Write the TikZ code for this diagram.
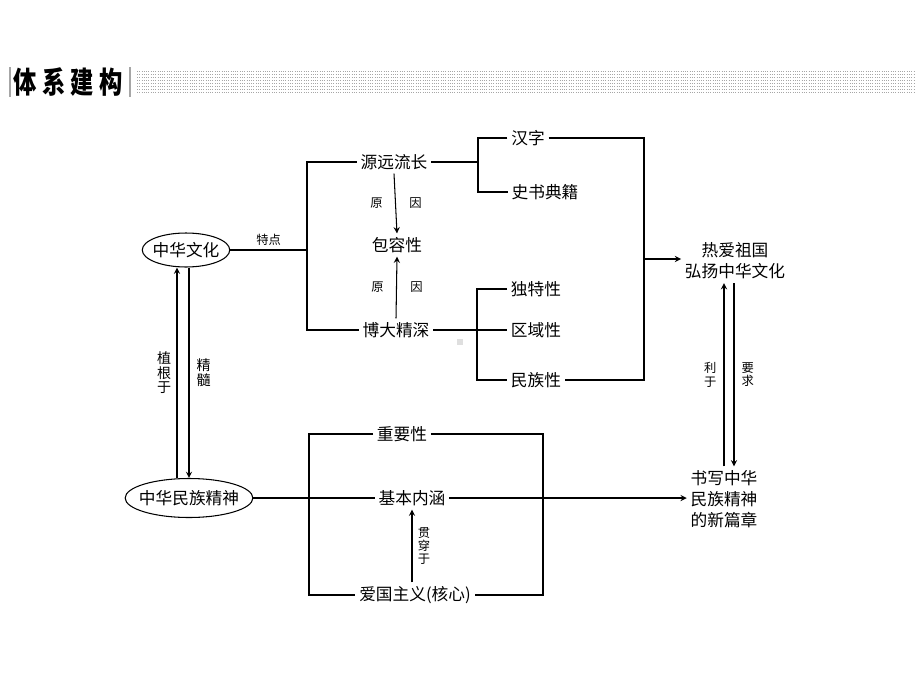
\documentclass[tikz,border=0pt]{standalone}
\usepackage{graphicx}
\usepackage{fontspec}
\newfontfamily\cjk{Noto Sans CJK SC}
\usepackage{tikz}
\usetikzlibrary{positioning, arrows, shapes}
\tikzstyle{term} = [inner sep=2pt, align=center, font=\cjk\fontsize{9.5}{12}\selectfont]
\tikzstyle{oval} = [ellipse, draw=black, line width=0.6pt, inner ysep=0pt, font=\cjk\fontsize{9.5}{12}\selectfont]
\tikzstyle{tag} = [inner sep=1pt, align=center, font=\cjk\fontsize{7}{7.6}\selectfont]
\tikzstyle{bigtag} = [inner sep=1pt, align=center, font=\cjk\fontsize{8}{8.2}\selectfont]
\tikzstyle{head} = [inner sep=0pt, font=\cjk\bfseries\fontsize{17}{17}\selectfont]
\tikzstyle{arrow} = [line width=0.6pt,->,>=stealth]
\tikzstyle{link} = [line width=0.6pt]

\begin{document}
\begin{tikzpicture}[x=0.02cm, y=-0.02cm]
        \useasboundingbox (0,0) rectangle (920,690);

        % title bar
        \draw [gray!70, line width=0.8pt] (10,67) -- (10,97);
        \draw [gray!70, line width=0.8pt] (130,67) -- (130,97);
        \foreach \ch [count=\i] in {体,系,建,构}
            \node (head\i) [head] at (-3+28.5*\i, 82) {\scalebox{0.78}[1]{\ch}};
        \foreach \y in {71,74,...,92}
            \draw [gray!70, line width=0.4pt, dash pattern=on 0.4pt off 0.9pt] (137,\y) -- (915,\y);

        % nodes
        \node (culture) [oval, inner xsep=-1.4pt, minimum height=0.68cm] at (186,250) {中华文化};
        \node (nation) [oval, inner xsep=-2.8pt, minimum height=0.78cm] at (189,498) {中华民族精神};
        \node (yuan) [term] at (394,162) {源远流长};
        \node (baorong) [term] at (397,245) {包容性};
        \node (boda) [term] at (396,330) {博大精深};
        \node (hanzi) [term] at (528,138) {汉字};
        \node (shishu) [term] at (545,192) {史书典籍};
        \node (dute) [term] at (536,289) {独特性};
        \node (quyu) [term] at (536,330) {区域性};
        \node (minzu) [term] at (536,380) {民族性};
        \node (patriot) [term] at (735,261) {热爱祖国\\弘扬中华文化};
        \node (newchapter) [term] at (724,499) {书写中华\\民族精神\\的新篇章};
        \node (zhongyao) [term] at (402,434) {重要性};
        \node (basic) [term] at (412,498) {基本内涵};
        \node (love) [term] at (415,595) {爱国主义(核心)};

        \coordinate (spine) at (307,250);
        \coordinate (spinetop) at (307,162);
        \coordinate (spinebot) at (307,330);
        \coordinate (fork1) at (478,162);
        \coordinate (fork2) at (477,330);
        \coordinate (rjoin) at (644,380);
        \coordinate (rmid) at (644,259);
        \coordinate (boxtl) at (309,434);
        \coordinate (boxtr) at (543,434);
        \coordinate (boxbl) at (309,595);
        \coordinate (boxbr) at (543,595);
        \coordinate (rootx) at (177,0);
        \coordinate (marrowx) at (189,0);
        \coordinate (forx) at (724,0);
        \coordinate (askx) at (734,0);

        % upper part
        \draw [link] (culture.east) -- node[tag, above=1pt] {特点} (spine);
        \draw [link] (yuan.west) -- (spinetop) -- (spinebot) -- (boda.west);
        \draw [arrow] (yuan.south) -- (baorong.north)
            node[tag, midway, xshift=-0.38cm] {原} node[tag, midway, xshift=0.4cm] {因};
        \draw [arrow] (boda.north) -- (baorong.south)
            node[tag, midway, xshift=-0.38cm] {原} node[tag, midway, xshift=0.4cm] {因};
        \draw [link] (yuan.east) -- (fork1);
        \draw [link] (hanzi.west) -| (fork1) |- (shishu.west);
        \draw [link] (boda.east) -- (quyu.west);
        \draw [link] (dute.west) -| (fork2) |- (minzu.west);
        \draw [link] (hanzi.east) -| (rjoin) -- (minzu.east);
        \draw [arrow] (rmid) -- (rmid -| patriot.west);
        \fill [gray!25] (457,339) rectangle (463,345);

        % lower part
        \draw [link] (zhongyao.west) -- (boxtl) -- (boxbl) -- (love.west);
        \draw [link] (zhongyao.east) -- (boxtr) -- (boxbr) -- (love.east);
        \draw [link] (nation.east) -- (basic.west);
        \draw [arrow] (basic.east) -- (basic.east -| newchapter.west);
        \draw [arrow] (love.north -| basic.south) -- (basic.south)
            node[tag, midway, right=2pt] {贯\\穿\\于};

        % vertical links
        \draw [arrow] (nation.north -| rootx) -- (culture.south -| rootx)
            node[bigtag, midway, left=2pt] {植\\根\\于};
        \draw [arrow] (culture.south -| marrowx) -- (nation.north -| marrowx)
            node[bigtag, midway, right=3pt] {精\\髓};
        \draw [arrow] (newchapter.north -| forx) -- (patriot.south -| forx)
            node[tag, midway, left=3pt] {利\\于};
        \draw [arrow] (patriot.south -| askx) -- (newchapter.north -| askx)
            node[tag, midway, right=3pt] {要\\求};
\end{tikzpicture}
\end{document}
